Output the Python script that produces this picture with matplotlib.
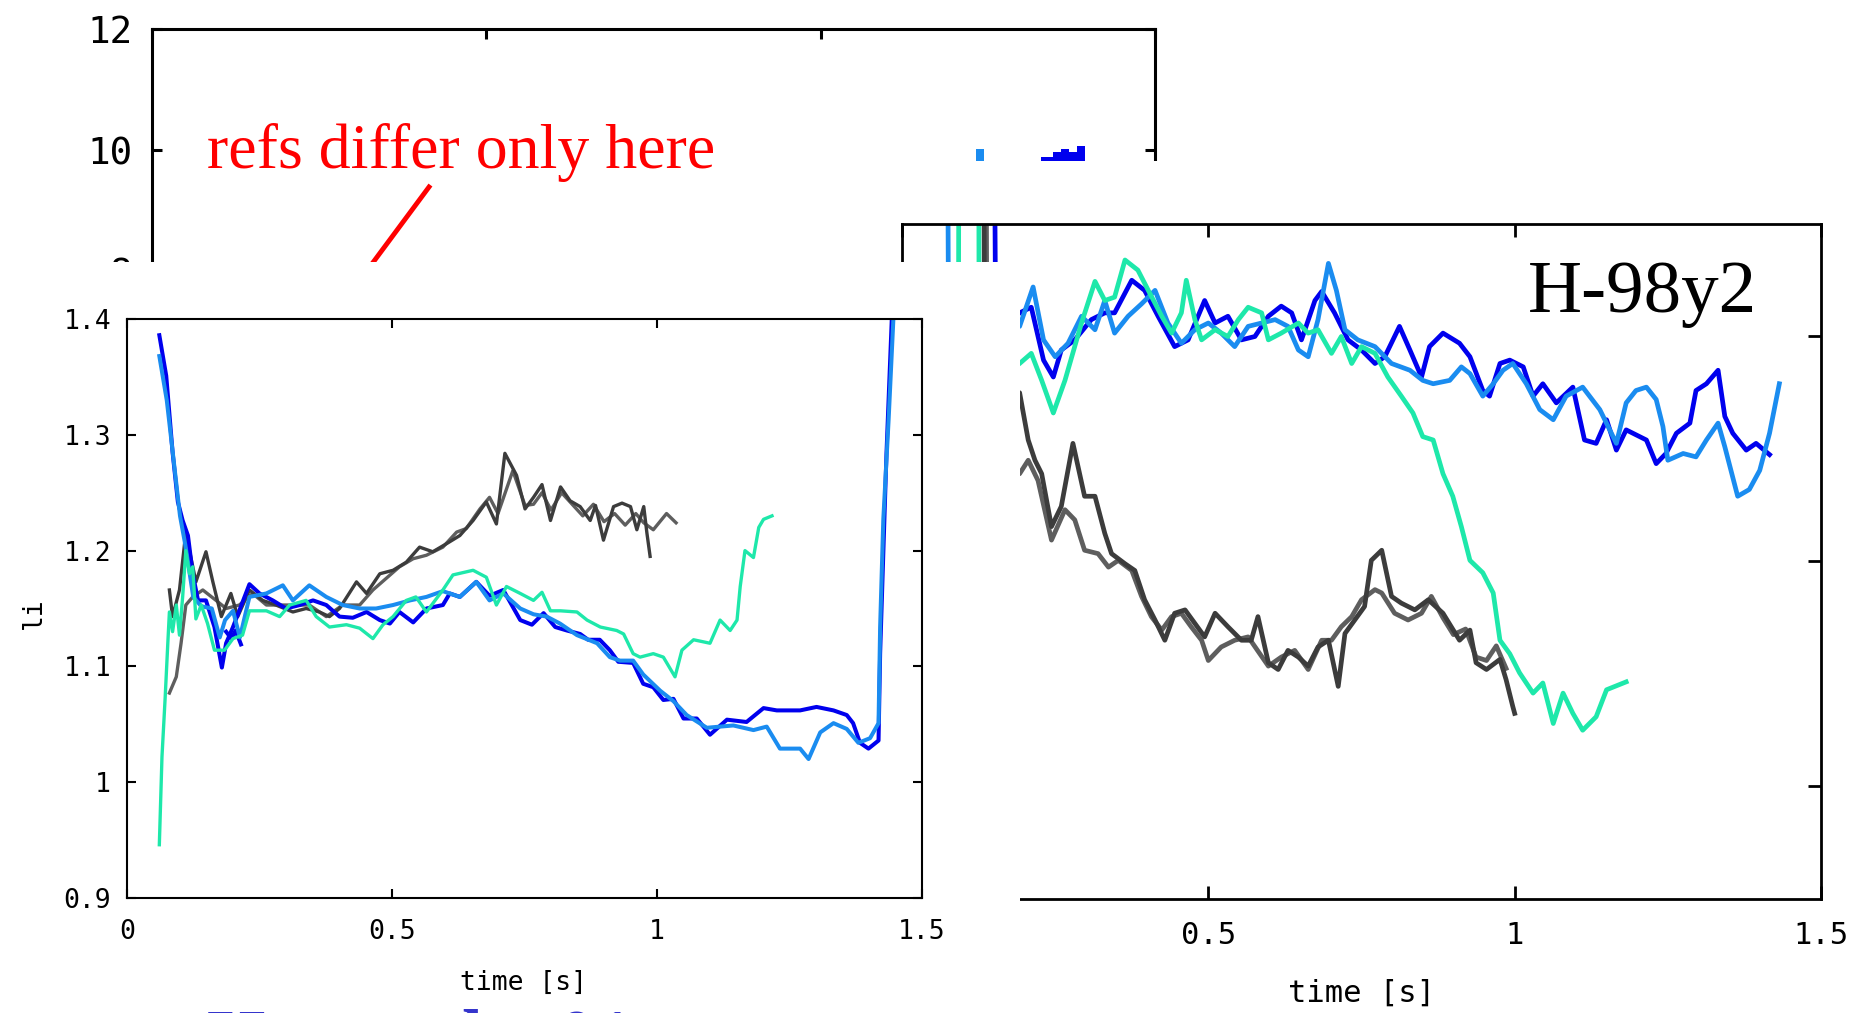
import matplotlib
matplotlib.use("Agg")
import matplotlib.pyplot as plt
from matplotlib.patches import Rectangle
from matplotlib.lines import Line2D

# ---------------- data ----------------
# background panel (mostly hidden), values near 10
bg_lb_t = [1.232, 1.244]
bg_lb_v = [10.02, 10.02]
bg_db_t = [1.329, 1.347, 1.360, 1.371, 1.384, 1.396]
bg_db_v = [9.89, 9.97, 10.01, 9.97, 10.07, 10.07]
bg_floor = 9.82
bg_yticks = [0, 2, 4, 6, 8, 10, 12]
bg_ylabels = ["0", "2", "4", "6", "8", "10", "12"]

# lower-left panel: li vs time
L_t_db = [0.061,0.074,0.086,0.096,0.105,0.115,0.124,0.134,0.149,0.165,0.179,0.187,0.200,0.231,0.250,
          0.275,0.300,0.326,0.351,0.376,0.401,0.426,0.452,0.477,0.496,0.514,0.540,0.565,0.596,0.609,
          0.628,0.659,0.684,0.710,0.742,0.764,0.786,0.808,0.830,0.855,0.870,0.892,0.911,0.927,0.955,
          0.974,0.993,1.012,1.031,1.050,1.075,1.100,1.132,1.169,1.201,1.226,1.270,1.301,1.333,1.358,
          1.370,1.383,1.399,1.418,1.421,1.427,1.433,1.443,1.455]
L_v_db = [1.386,1.351,1.285,1.242,1.226,1.213,1.180,1.157,1.157,1.134,1.099,1.120,1.134,1.171,1.163,
          1.157,1.150,1.153,1.157,1.153,1.143,1.142,1.147,1.140,1.137,1.147,1.138,1.150,1.153,1.163,
          1.160,1.173,1.161,1.166,1.140,1.136,1.146,1.134,1.131,1.128,1.123,1.123,1.114,1.104,1.103,
          1.085,1.082,1.071,1.072,1.055,1.055,1.041,1.054,1.052,1.064,1.062,1.062,1.065,1.062,1.058,
          1.051,1.034,1.029,1.036,1.111,1.198,1.284,1.400,1.480]
L_t_db2 = [0.187, 0.197, 0.205, 0.215]
L_v_db2 = [1.130, 1.124, 1.131, 1.119]
L_t_lb = [0.061,0.075,0.090,0.100,0.110,0.125,0.140,0.160,0.175,0.185,0.200,0.213,0.231,0.263,0.294,
          0.313,0.344,0.376,0.407,0.439,0.470,0.502,0.534,0.565,0.596,0.628,0.659,0.684,0.710,0.742,
          0.767,0.792,0.817,0.849,0.887,0.911,0.930,0.955,0.974,1.006,1.031,1.056,1.094,1.144,1.182,
          1.207,1.232,1.270,1.286,1.308,1.333,1.358,1.380,1.402,1.418,1.421,1.427,1.437,1.446,1.460]
L_v_lb = [1.368,1.330,1.270,1.230,1.205,1.160,1.152,1.150,1.125,1.140,1.148,1.125,1.160,1.163,1.170,
          1.157,1.170,1.160,1.153,1.150,1.150,1.153,1.157,1.160,1.165,1.160,1.173,1.157,1.163,1.150,
          1.145,1.143,1.137,1.127,1.120,1.108,1.105,1.105,1.093,1.079,1.070,1.058,1.047,1.049,1.045,
          1.048,1.029,1.029,1.020,1.043,1.051,1.046,1.034,1.038,1.051,1.134,1.227,1.313,1.400,1.480]
L_t_gr = [0.061,0.066,0.072,0.077,0.080,0.086,0.093,0.099,0.105,0.111,0.118,0.124,0.130,0.140,0.152,
          0.165,0.184,0.200,0.218,0.231,0.263,0.288,0.307,0.338,0.357,0.382,0.414,0.439,0.464,0.483,
          0.502,0.527,0.545,0.565,0.596,0.615,0.653,0.678,0.697,0.716,0.742,0.767,0.783,0.799,0.818,
          0.849,0.868,0.893,0.924,0.937,0.955,0.968,0.993,1.012,1.034,1.047,1.069,1.100,1.119,1.138,
          1.151,1.157,1.166,1.182,1.192,1.201,1.217]
L_v_gr = [0.946,1.022,1.073,1.120,1.147,1.130,1.153,1.127,1.160,1.200,1.180,1.186,1.141,1.153,1.137,
          1.114,1.114,1.124,1.127,1.148,1.148,1.143,1.153,1.157,1.143,1.134,1.136,1.133,1.124,1.136,
          1.143,1.157,1.160,1.147,1.166,1.179,1.183,1.177,1.153,1.169,1.163,1.157,1.164,1.148,1.148,
          1.147,1.140,1.134,1.131,1.128,1.111,1.108,1.111,1.108,1.091,1.114,1.123,1.120,1.140,1.131,
          1.140,1.169,1.200,1.194,1.220,1.227,1.230]
L_t_ga = [0.080,0.086,0.099,0.111,0.121,0.130,0.149,0.162,0.178,0.196,0.209,0.231,0.256,0.281,0.313,
          0.338,0.363,0.382,0.401,0.433,0.452,0.477,0.502,0.527,0.552,0.577,0.603,0.628,0.653,0.678,
          0.697,0.713,0.735,0.751,0.767,0.783,0.799,0.818,0.836,0.855,0.874,0.884,0.899,0.918,0.934,
          0.950,0.962,0.975,0.981,0.987]
L_v_ga = [1.166,1.143,1.166,1.216,1.193,1.173,1.199,1.173,1.143,1.163,1.143,1.166,1.157,1.153,1.147,
          1.150,1.147,1.143,1.150,1.173,1.163,1.180,1.183,1.190,1.203,1.199,1.206,1.213,1.226,1.242,
          1.223,1.284,1.265,1.236,1.246,1.257,1.226,1.255,1.243,1.238,1.226,1.239,1.209,1.238,1.241,
          1.238,1.218,1.238,1.215,1.195]
L_t_gb = [0.080,0.093,0.102,0.111,0.124,0.143,0.168,0.187,0.212,0.237,0.263,0.288,0.313,0.344,0.376,
          0.407,0.439,0.464,0.489,0.514,0.540,0.565,0.596,0.622,0.640,0.666,0.684,0.700,0.728,0.751,
          0.767,0.783,0.800,0.820,0.840,0.860,0.880,0.900,0.920,0.940,0.960,0.975,0.993,1.018,1.036]
L_v_gb = [1.077,1.091,1.120,1.153,1.160,1.166,1.157,1.150,1.153,1.163,1.153,1.153,1.153,1.153,1.143,
          1.153,1.153,1.166,1.176,1.186,1.193,1.196,1.203,1.216,1.219,1.236,1.246,1.232,1.269,1.239,
          1.240,1.250,1.235,1.250,1.240,1.230,1.240,1.225,1.232,1.222,1.232,1.224,1.218,1.232,1.224]
L_xticks = [0, 0.5, 1, 1.5]
L_xlabels = ["0", "0.5", "1", "1.5"]
L_yticks = [0.9, 1.0, 1.1, 1.2, 1.3, 1.4]
L_ylabels = ["0.9", "1", "1.1", "1.2", "1.3", "1.4"]

# right panel: H-98y2 vs time
R_t_db = [0.150,0.153,0.192,0.211,0.231,0.247,0.260,0.282,0.309,0.331,0.347,0.375,0.396,0.418,0.445,
          0.467,0.494,0.511,0.532,0.554,0.576,0.598,0.619,0.636,0.652,0.674,0.685,0.706,0.728,0.750,
          0.772,0.788,0.812,0.829,0.848,0.861,0.883,0.910,0.927,0.948,0.959,0.976,0.992,1.014,1.030,
          1.046,1.068,1.095,1.114,1.133,1.150,1.166,1.182,1.215,1.231,1.247,1.264,1.286,1.296,1.313,
          1.332,1.343,1.356,1.378,1.394,1.416]
R_v_db = [1.45,1.20,1.221,1.226,1.179,1.164,1.188,1.197,1.215,1.221,1.221,1.250,1.241,1.218,1.191,
          1.197,1.232,1.212,1.218,1.197,1.200,1.218,1.227,1.221,1.197,1.232,1.240,1.221,1.197,1.188,
          1.176,1.182,1.209,1.188,1.164,1.191,1.203,1.194,1.182,1.152,1.147,1.176,1.179,1.173,1.147,
          1.158,1.141,1.155,1.108,1.105,1.126,1.099,1.117,1.108,1.087,1.096,1.114,1.123,1.152,1.158,
          1.170,1.129,1.114,1.099,1.105,1.095]
R_t_lb = [0.074,0.076,0.192,0.214,0.231,0.250,0.271,0.293,0.315,0.331,0.347,0.369,0.391,0.413,0.434,
          0.456,0.478,0.500,0.521,0.543,0.565,0.587,0.609,0.630,0.647,0.663,0.679,0.696,0.709,0.723,
          0.744,0.772,0.799,0.829,0.850,0.867,0.894,0.913,0.927,0.948,0.965,0.981,0.997,1.019,1.041,
          1.063,1.084,1.111,1.139,1.166,1.182,1.198,1.215,1.231,1.242,1.250,1.275,1.296,1.313,1.332,
          1.343,1.364,1.383,1.400,1.416,1.432]
R_v_lb = [1.45,1.20,1.209,1.244,1.197,1.182,1.194,1.218,1.206,1.232,1.203,1.218,1.229,1.241,1.212,
          1.194,1.206,1.212,1.203,1.191,1.209,1.212,1.215,1.209,1.188,1.182,1.215,1.265,1.241,1.206,
          1.197,1.191,1.176,1.170,1.161,1.158,1.161,1.173,1.167,1.147,1.158,1.170,1.176,1.158,1.135,
          1.126,1.147,1.155,1.135,1.105,1.141,1.152,1.155,1.144,1.120,1.090,1.096,1.093,1.108,1.123,
          1.102,1.058,1.064,1.081,1.114,1.158]
R_t_gr = [0.092,0.093,0.125,0.126,0.192,0.211,0.228,0.247,0.266,0.293,0.315,0.331,0.347,0.364,0.385,
          0.402,0.424,0.440,0.456,0.464,0.478,0.489,0.511,0.532,0.549,0.565,0.587,0.598,0.619,0.647,
          0.663,0.679,0.701,0.717,0.734,0.750,0.772,0.793,0.815,0.834,0.850,0.867,0.883,0.899,0.913,
          0.927,0.948,0.965,0.976,0.992,1.008,1.030,1.046,1.063,1.079,1.095,1.111,1.133,1.150,1.182]
R_v_gr = [1.15,1.45,1.45,1.15,1.176,1.185,1.161,1.132,1.161,1.212,1.249,1.232,1.235,1.268,1.259,
          1.241,1.218,1.203,1.221,1.250,1.215,1.197,1.206,1.200,1.215,1.226,1.221,1.197,1.203,1.212,
          1.203,1.206,1.185,1.200,1.176,1.191,1.185,1.164,1.147,1.132,1.111,1.108,1.078,1.058,1.031,
          1.001,0.990,0.972,0.930,0.918,0.901,0.883,0.892,0.856,0.883,0.865,0.850,0.862,0.886,0.893]
R_t_ga = [0.133,0.135,0.192,0.206,0.217,0.228,0.244,0.260,0.279,0.298,0.315,0.331,0.342,0.364,0.380,
          0.396,0.413,0.429,0.445,0.462,0.478,0.494,0.511,0.532,0.554,0.570,0.581,0.598,0.614,0.630,
          0.647,0.663,0.679,0.696,0.712,0.723,0.739,0.755,0.766,0.783,0.799,0.815,0.837,0.859,0.883,
          0.910,0.927,0.937,0.954,0.976,0.986,0.997,1.000]
R_v_ga = [1.45,1.15,1.150,1.108,1.090,1.078,1.031,1.049,1.105,1.058,1.058,1.025,1.007,0.998,0.992,
          0.966,0.948,0.930,0.954,0.957,0.945,0.933,0.954,0.942,0.930,0.930,0.951,0.910,0.904,0.921,
          0.915,0.907,0.924,0.930,0.889,0.936,0.948,0.960,1.001,1.010,0.969,0.963,0.957,0.966,0.954,
          0.930,0.939,0.910,0.904,0.913,0.895,0.871,0.865]
R_t_gb = [0.137,0.139,0.192,0.206,0.222,0.244,0.266,0.282,0.298,0.320,0.337,0.353,0.375,0.391,0.407,
          0.424,0.440,0.456,0.472,0.489,0.500,0.521,0.543,0.565,0.598,0.619,0.641,0.663,0.685,0.701,
          0.717,0.734,0.750,0.772,0.783,0.804,0.826,0.848,0.864,0.883,0.900,0.920,0.937,0.954,0.970,
          0.986]
R_v_gb = [1.45,1.10,1.078,1.090,1.072,1.019,1.046,1.037,1.010,1.007,0.995,1.001,0.992,0.969,0.951,
          0.939,0.951,0.954,0.942,0.930,0.912,0.924,0.930,0.933,0.907,0.915,0.921,0.904,0.930,0.930,
          0.942,0.951,0.966,0.975,0.972,0.954,0.948,0.954,0.969,0.950,0.935,0.940,0.915,0.912,0.925,
          0.905]
R_xticks = [0, 0.5, 1, 1.5]
R_xlabels = ["", "0.5", "1", "1.5"]   # the "0" label lies hidden under the left panel
R_yticks = [0.8, 1.0, 1.2]

# ---------------- layout helpers ----------------
W, H, DPI = 1866, 1013, 100
fig = plt.figure(figsize=(W / DPI, H / DPI), dpi=DPI)
fig.patch.set_facecolor("white")


def rect(l, t, r, b):
    return [l / W, 1 - b / H, (r - l) / W, (b - t) / H]


def fx(x):
    return x / W


def fy(y):
    return 1 - y / H


def white_box(l, t, r, b, z):
    fig.add_artist(Rectangle((fx(l), fy(b)), (r - l) / W, (b - t) / H,
                             transform=fig.transFigure, facecolor="white",
                             edgecolor="none", zorder=z))


C_DB = "#0000ee"
C_LB = "#1a8cf0"
C_GR = "#1ee8aa"
C_GA = "#3c3c3c"
C_GB = "#5e5e5e"
MONO = "DejaVu Sans Mono"
SERIF = "Liberation Serif"

# ---------------- background panel ----------------
ax0 = fig.add_axes(rect(152, 29, 1155, 755), zorder=0)
ax0.set_xlim(0, 1.5)
ax0.set_ylim(0, 12)
ax0.set_xticks([0, 0.5, 1, 1.5])
ax0.set_yticks(bg_yticks)
ax0.set_yticklabels(bg_ylabels, fontfamily=MONO, fontsize=27)
ax0.tick_params(direction="in", length=7, width=2.2, top=True, right=True,
                labelbottom=False, pad=14)
for s in ax0.spines.values():
    s.set_linewidth(2.2)
ax0.fill_between(bg_lb_t, bg_lb_v, bg_floor, step="post", color=C_LB, lw=0)
ax0.fill_between(bg_db_t, bg_db_v, bg_floor, step="post", color=C_DB, lw=0)

fig.text(fx(207), fy(168), "refs differ only here", color="red", fontsize=46,
         family=SERIF, ha="left", va="baseline", zorder=0.6)
fig.add_artist(Line2D([fx(429), fx(360)], [fy(187), fy(280)], color="red", lw=3.5,
                      transform=fig.transFigure, zorder=0.6))

# ---------------- right panel ----------------
white_box(880, 161, 1866, 1013, 1)
axr = fig.add_axes(rect(902, 224, 1821, 899), zorder=2)
axr.set_xlim(0, 1.5)
axr.set_ylim(0.7, 1.3)
axr.set_xticks(R_xticks)
axr.set_xticklabels(R_xlabels, fontfamily=MONO, fontsize=22)
axr.set_yticks(R_yticks)
axr.tick_params(direction="in", length=9.5, width=2, top=True, right=True,
                labelleft=False, pad=16)
for s in axr.spines.values():
    s.set_linewidth(2)
RLW = 3.4
axr.plot(R_t_gb, R_v_gb, color=C_GB, lw=RLW)
axr.plot(R_t_ga, R_v_ga, color=C_GA, lw=RLW)
axr.plot(R_t_db, R_v_db, color=C_DB, lw=RLW)
axr.plot(R_t_lb, R_v_lb, color=C_LB, lw=RLW)
axr.plot(R_t_gr, R_v_gr, color=C_GR, lw=RLW)
fig.text(fx(1361), fy(993), "time [s]", family=MONO, fontsize=22,
         ha="center", va="center", zorder=2.5)
fig.text(fx(1528), fy(312), "H-98y2", family=SERIF, fontsize=54,
         ha="left", va="baseline", zorder=2.5)

# ---------------- lower-left panel ----------------
white_box(0, 262, 1020, 1013, 3)
axl = fig.add_axes(rect(127, 319, 922, 898), zorder=4)
axl.set_xlim(0, 1.5)
axl.set_ylim(0.9, 1.4)
axl.set_xticks(L_xticks)
axl.set_xticklabels(L_xlabels, fontfamily=MONO, fontsize=19)
axl.set_yticks(L_yticks)
axl.set_yticklabels(L_ylabels, fontfamily=MONO, fontsize=19)
axl.tick_params(axis="both", direction="in", length=6.5, width=1.5, top=True, right=True)
axl.tick_params(axis="x", pad=15)
axl.tick_params(axis="y", pad=11.5)
for s in axl.spines.values():
    s.set_linewidth(1.5)
LLW = 2.4
axl.plot(L_t_gb, L_v_gb, color=C_GB, lw=LLW)
axl.plot(L_t_ga, L_v_ga, color=C_GA, lw=LLW)
axl.plot(L_t_db, L_v_db, color=C_DB, lw=2.9)
axl.plot(L_t_db2, L_v_db2, color=C_DB, lw=2.9)
axl.plot(L_t_lb, L_v_lb, color=C_LB, lw=2.9)
axl.plot(L_t_gr, L_v_gr, color=C_GR, lw=LLW)
fig.text(fx(524), fy(983), "time [s]", family=MONO, fontsize=19,
         ha="center", va="center", zorder=5)
fig.text(fx(34), fy(613), "li", family=MONO, fontsize=19, rotation=90,
         ha="center", va="center", zorder=5)
fig.text(fx(207), fy(1061), "Here only  01", family=SERIF, fontweight="bold",
         fontsize=54, color="#3535cc", ha="left", va="baseline", zorder=5)

fig.savefig("out.png", dpi=DPI, facecolor="white")
